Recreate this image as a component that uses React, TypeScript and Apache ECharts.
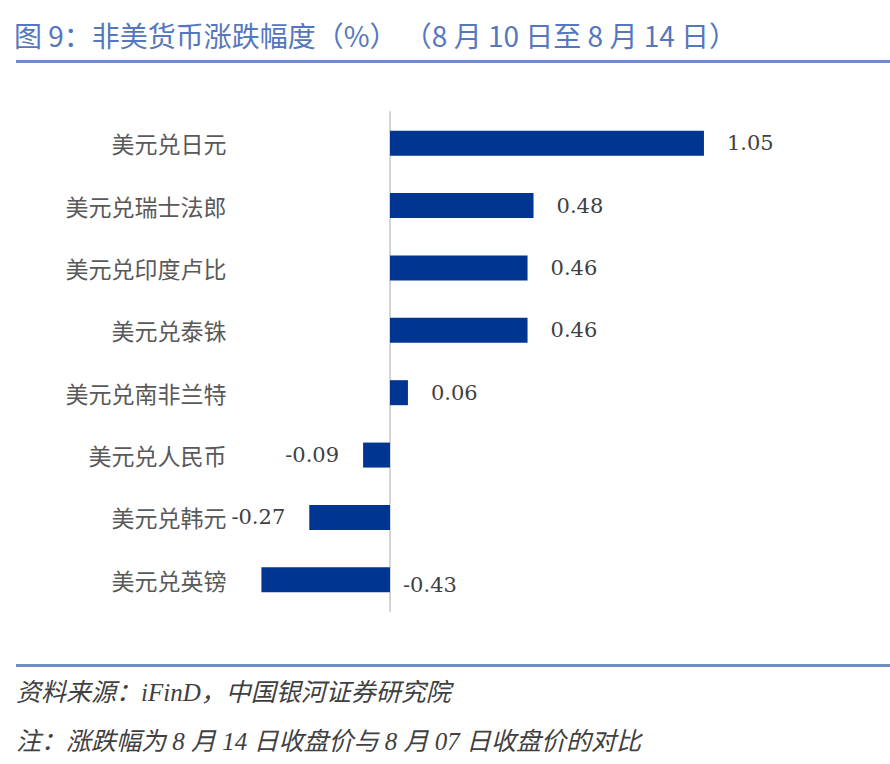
import React, { useEffect, useRef } from "react";
import * as echarts from "echarts";

const categories = [
  "美元兑日元",
  "美元兑瑞士法郎",
  "美元兑印度卢比",
  "美元兑泰铢",
  "美元兑南非兰特",
  "美元兑人民币",
  "美元兑韩元",
  "美元兑英镑",
];
const values = [1.05, 0.48, 0.46, 0.46, 0.06, -0.09, -0.27, -0.43];

const titleText = "图 9：非美货币涨跌幅度（%） （8 月 10 日至 8 月 14 日）";
const sourceText = "资料来源：iFinD，中国银河证券研究院";
const noteText = "注：涨跌幅为 8 月 14 日收盘价与 8 月 07 日收盘价的对比";

const BLUE = "#003591";
const ACCENT = "#6f8cc6";
const FOOT_FONT = "'Liberation Serif', 'Noto Sans CJK SC'";

export default function App() {
  const ref = useRef<HTMLDivElement>(null);
  useEffect(() => {
    if (!ref.current) return;
    const chart = echarts.init(ref.current, undefined, { renderer: "svg" });
    const data = values.map((v, i) => {
      let label: any;
      if (v >= 0) {
        label = { position: "right", distance: 23 };
      } else if (i === values.length - 1) {
        label = { position: "right", distance: 13, offset: [0, 5] };
      } else {
        label = { position: "left", distance: 24 };
      }
      return { value: v, label };
    });
    chart.setOption({
      animation: false,
      backgroundColor: "#ffffff",
      title: {
        text: titleText,
        left: 14,
        top: 21,
        padding: 0,
        textStyle: {
          fontFamily: "Noto Sans CJK SC",
          fontSize: 28,
          fontWeight: "normal",
          color: "#5577bd",
        },
      },
      graphic: [
        {
          type: "rect",
          shape: { x: 16, y: 60, width: 874, height: 3 },
          style: { fill: ACCENT },
        },
        {
          type: "rect",
          shape: { x: 16, y: 664, width: 874, height: 3 },
          style: { fill: ACCENT },
        },
        {
          type: "text",
          x: 16,
          y: 692,
          style: {
            text: sourceText,
            fontFamily: FOOT_FONT,
            fontSize: 25,
            fontStyle: "italic",
            fill: "#404040",
            verticalAlign: "middle",
          },
        },
        {
          type: "text",
          x: 16,
          y: 741,
          style: {
            text: noteText,
            fontFamily: FOOT_FONT,
            fontSize: 25,
            fontStyle: "italic",
            fill: "#404040",
            verticalAlign: "middle",
          },
        },
      ],
      grid: {
        left: 240.5,
        width: 508.3,
        top: 112,
        height: 499,
        outerBoundsMode: "none",
        containLabel: false,
      },
      xAxis: {
        type: "value",
        show: false,
        min: -0.5,
        max: 1.2,
        splitLine: { show: false },
      },
      yAxis: {
        type: "category",
        data: categories,
        inverse: true,
        axisLine: { show: true, onZero: true, lineStyle: { color: "#d4d4d4", width: 2 } },
        axisTick: { show: false },
        axisLabel: {
          margin: 14,
          fontFamily: "Noto Sans CJK SC",
          fontSize: 23,
          color: "#595959",
        },
      },
      series: [
        {
          type: "bar",
          data,
          barWidth: 25,
          itemStyle: { color: BLUE },
          label: {
            show: true,
            fontFamily: "DejaVu Serif",
            fontSize: 21,
            color: "#404040",
            formatter: (p: any) => Number(p.value).toFixed(2),
          },
        },
      ],
    });
    return () => chart.dispose();
  }, []);
  return (
    <div
      ref={ref}
      style={{ position: "fixed", left: 0, top: 0, width: 890, height: 764 }}
    />
  );
}
